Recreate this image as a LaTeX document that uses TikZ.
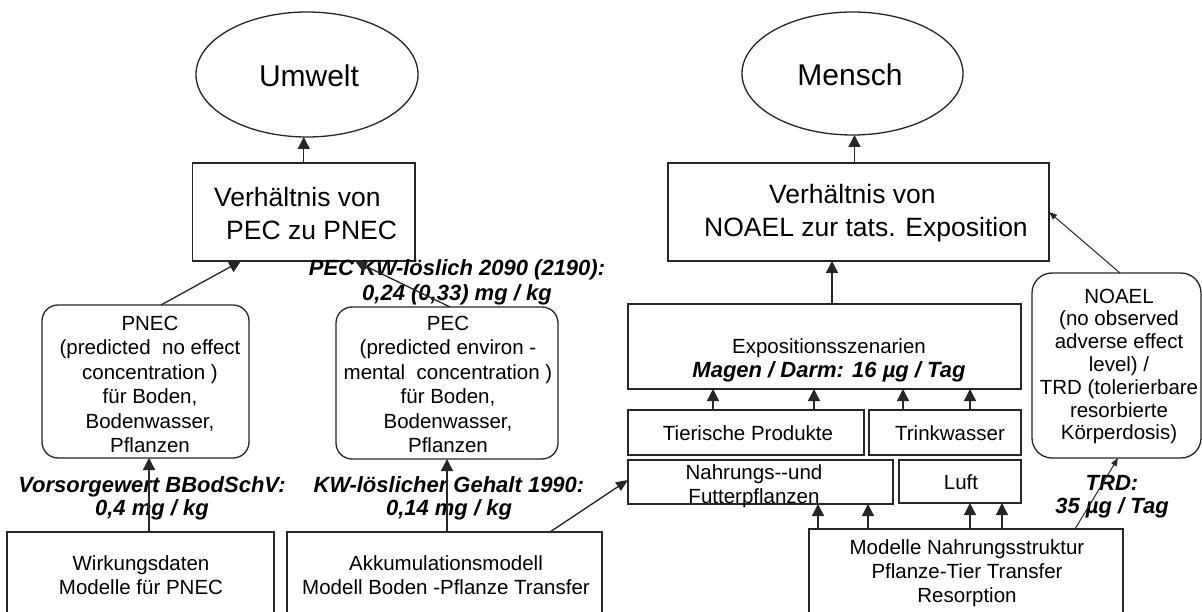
\documentclass[tikz,border=0pt]{standalone}
\usepackage{fontspec}
\setmainfont{Liberation Sans}
\usetikzlibrary{shapes.geometric,arrows.meta,calc}
\begin{document}
\begin{tikzpicture}[x=1pt,y=-1pt,
  ln/.style={draw=black!85, line width=1.3pt},
  box/.style={ln, rectangle, inner sep=0pt, outer sep=0pt},
  rbox/.style={box, rounded corners=16pt},
  oval/.style={ln, ellipse, inner sep=0pt, outer sep=0pt},
  big/.style={font=\fontsize{30}{36}\selectfont, inner sep=0pt},
  mid/.style={font=\fontsize{26.5}{33}\selectfont, inner sep=0pt, align=left},
  txt/.style={font=\fontsize{20.5}{24.5}\selectfont, align=center, inner sep=0pt},
  lbl/.style={font=\fontsize{22}{23}\selectfont\bfseries\itshape, align=center, inner sep=0pt},
  arr/.style={ln, -{Triangle[width=12pt,length=12pt]}},
  tarr/.style={draw=black!85, line width=1pt, -{Triangle[width=6pt,length=8pt]}},
]
\useasboundingbox (0,0) rectangle (1202,612);
\fill[white] (0,0) rectangle (1202,612);
\clip (0,0) rectangle (1202,612);

% ---------- left part ----------
\node[oval, minimum width=222pt, minimum height=125pt] (umwelt) at (307,74.5) {};
\node[big] (tumwelt) at (309,76) {Umwelt};
\node[box, minimum width=222.5pt, minimum height=98pt] (v1) at (303.75,212) {};
\node[mid, anchor=west] (tv1) at (214,213.5) {Verhältnis von\\\hspace*{12pt}PEC zu PNEC};

\node[rbox, minimum width=207pt, minimum height=153pt] (pnec) at (145.5,381.5) {};
\node[txt] (tpnec) at (150,384.5) {PNEC\\(predicted\ \ no effect\\concentration )\\für Boden,\\Bodenwasser,\\Pflanzen};
\node[rbox, minimum width=222pt, minimum height=152pt] (pec) at (447,383) {};
\node[txt] (tpec) at (448,384.5) {PEC\\(predicted environ -\\mental\ \ concentration )\\für Boden,\\Bodenwasser,\\Pflanzen};

\node[box, minimum width=267pt, minimum height=118pt] (wirk) at (140.5,591) {};
\node[txt] (twirk) at (141,575) {Wirkungsdaten\\Modelle für PNEC};
\node[box, minimum width=315pt, minimum height=118pt] (akk) at (444.5,591) {};
\node[txt] (takk) at (446,575) {Akkumulationsmodell\\Modell Boden -Pflanze Transfer};

\node[lbl] (lvors) at (152,498.5) {Vorsorgewert BBodSchV:\\0,4 mg / kg};
\node[lbl] (lkw) at (449,498.5) {KW-löslicher Gehalt 1990:\\0,14 mg / kg};
\node[lbl, font=\fontsize{22}{25}\selectfont\bfseries\itshape] (lpec) at (457,282.5) {PEC KW-löslich 2090 (2190):\\0,24 (0,33) mg / kg};

% ---------- right part ----------
\node[oval, minimum width=221pt, minimum height=123pt] (mensch) at (852.5,73.5) {};
\node[big] (tmensch) at (850,75) {Mensch};
\node[box, minimum width=381pt, minimum height=98pt] (v2) at (858.5,212) {};
\node[mid, anchor=west] (tv2) at (704,213.5) {\hspace*{65pt}Verhältnis von\\NOAEL zur tats. Exposition};

\node[rbox, rounded corners=20pt, minimum width=169pt, minimum height=185pt] (noael) at (1116.5,365.5) {};
\node[txt, font=\fontsize{20.5}{22.8}\selectfont] (tnoael) at (1119,366.5) {NOAEL\\(no observed\\adverse effect\\level) /\\TRD (tolerierbare\\resorbierte\\Körperdosis)};

\node[box, minimum width=393pt, minimum height=85pt] (expo) at (824.5,346.5) {};
\node[txt, font=\fontsize{20.5}{24}\selectfont] (texpo) at (829,360) {Expositionsszenarien\\\fontsize{22}{24}\selectfont\bfseries\itshape Magen / Darm: 16 µg / Tag};

\node[box, minimum width=236pt, minimum height=45pt] (tier) at (746,432.5) {};
\node[txt] (ttier) at (748,433) {Tierische Produkte};
\node[box, minimum width=152pt, minimum height=45pt] (trink) at (945,432.5) {};
\node[txt] (ttrink) at (950,433) {Trinkwasser};

\node[box, minimum width=265pt, minimum height=44pt] (nahr) at (760.5,482) {};
\node[txt, font=\fontsize{20.5}{24}\selectfont] (tnahr) at (754,486) {Nahrungs-{}-und\\Futterpflanzen};
\node[box, minimum width=122pt, minimum height=43pt] (luft) at (960,481.5) {};
\node[txt] (tluft) at (961,482) {Luft};

\node[box, minimum width=314pt, minimum height=121pt] (mod) at (966,589.5) {};
\node[txt, font=\fontsize{20.5}{24}\selectfont] (tmod) at (967,573) {Modelle Nahrungsstruktur\\Pflanze-Tier Transfer\\Resorption};

\node[lbl] (ltrd) at (1112,496.5) {TRD:\\35 µg / Tag};

% ---------- connectors ----------
\draw[arr] (v1.north) -- (v1.north |- umwelt.south);
\draw[arr] ($(pnec.north)+(15.5,0)$) -- ($(v1.south)+(-62.75,0)$);
\draw[arr] ($(pec.north)+(3,0)$) -- ($(v1.south)+(51.25,0)$);
\draw[arr] ($(wirk.north)+(8.5,0)$) -- ($(pnec.south)+(3.5,0)$);
\draw[arr] ($(akk.north)+(2.5,0)$) -- (pec.south);
\draw[ln, -{Triangle[width=10pt,length=12pt]}] ($(akk.north)+(105.5,0)$) -- ($(nahr.west)+(0,-2)$);

\draw[arr] ($(v2.north)+(-4,0)$) -- ($(v2.north |- mensch.south)+(-4,0)$);
\draw[arr] ($(expo.north)+(7.5,0)$) -- ($(v2.south)+(-26.5,0)$);
\draw[tarr] ($(noael.north)+(3.5,0)$) -- (v2.east);

\draw[arr] ($(tier.north)+(-33,0)$) -- ($(expo.south)+(-111.5,0)$);
\draw[arr] ($(tier.north)+(68,0)$) -- ($(expo.south)+(-10.5,0)$);
\draw[arr] ($(trink.north)+(-42,0)$) -- ($(expo.south)+(78.5,0)$);
\draw[arr] ($(trink.north)+(25,0)$) -- ($(expo.south)+(145.5,0)$);

\draw[arr] ($(mod.north)+(-148,0)$) -- ($(nahr.south)+(57.5,0)$);
\draw[arr] ($(mod.north)+(-98,0)$) -- ($(nahr.south)+(107.5,0)$);
\draw[arr] ($(mod.north)+(4,0)$) -- ($(luft.south)+(10,0)$);
\draw[arr] ($(mod.north)+(36,0)$) -- ($(luft.south)+(42,0)$);
\draw[tarr] ($(mod.north)+(109,0)$) -- ($(noael.south)+(1.5,0)$);
\end{tikzpicture}
\end{document}
